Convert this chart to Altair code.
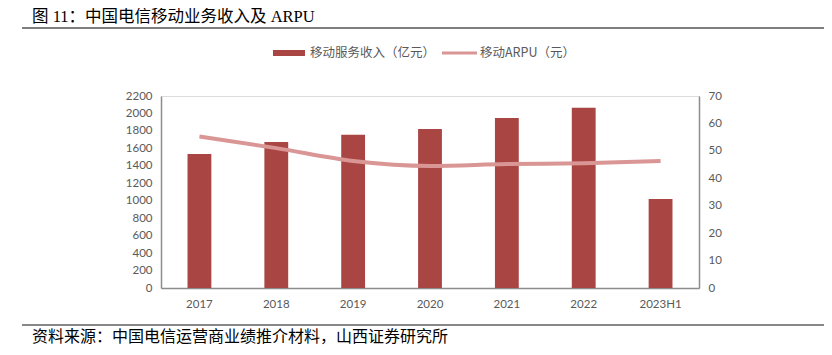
import altair as alt
import pandas as pd

years = ["2017", "2018", "2019", "2020", "2021", "2022", "2023H1"]
revenue = [1535, 1673, 1755, 1822, 1948, 2066, 1020]
arpu = [55.2, 51.0, 46.3, 44.5, 45.2, 45.5, 46.3]

title_text = "图 11：中国电信移动业务收入及 ARPU"
source_text = "资料来源：中国电信运营商业绩推介材料，山西证券研究所"
legend_bar = "移动服务收入（亿元）"
legend_line = "移动ARPU（元）"

BAR = "#A94543"
LINE = "#D99694"
LAB = "#595959"
AX = "#8C8C8C"
FONT = "Noto Sans CJK SC"
SERIF = "Liberation Serif, Noto Sans CJK SC"

df = pd.DataFrame({"year": years, "revenue": revenue, "arpu": arpu})

xenc = alt.X("year:N", sort=years, title=None,
             scale=alt.Scale(paddingInner=0.69, paddingOuter=0.345),
             axis=alt.Axis(labelAngle=0, labelColor=LAB, labelFont="Lato", labelFontSize=11.5,
                           ticks=False, domainColor=AX, domainWidth=1.5, labelPadding=10))

bars = alt.Chart(df).mark_bar(color=BAR).encode(
    x=xenc,
    y=alt.Y("revenue:Q", title=None,
            scale=alt.Scale(domain=[0, 2200], nice=False),
            axis=alt.Axis(orient="left", values=list(range(0, 2201, 200)), format="d",
                          grid=False, ticks=False,
                          labelColor=LAB, labelFont="Lato", labelFontSize=11.5,
                          domainColor=AX, domainWidth=1.5, labelPadding=9)),
)

line = alt.Chart(df).mark_line(color=LINE, strokeWidth=4, interpolate="monotone").encode(
    x=alt.X("year:N", sort=years, bandPosition=0.5),
    y=alt.Y("arpu:Q", title=None,
            scale=alt.Scale(domain=[0, 70], nice=False),
            axis=alt.Axis(orient="right", values=list(range(0, 71, 10)), format="d",
                          grid=False, ticks=False,
                          labelColor=LAB, labelFont="Lato", labelFontSize=11.5,
                          domainColor=AX, domainWidth=1.5, labelPadding=9)),
)

one = alt.Data(values=[{"k": 1}])

title = alt.Chart(one).mark_text(align="left", baseline="middle", font=SERIF, fontSize=16.5,
                                 color="#000000").encode(
    x=alt.value(-129), y=alt.value(-79), text=alt.value(title_text))
title_rule = alt.Chart(one).mark_rule(color="#555555", strokeWidth=1.5).encode(
    x=alt.value(-139), x2=alt.value(664), y=alt.value(-68))
foot_rule = alt.Chart(one).mark_rule(color="#888888", strokeWidth=2).encode(
    x=alt.value(-139), x2=alt.value(664), y=alt.value(229))
foot = alt.Chart(one).mark_text(align="left", baseline="middle", font=FONT, fontSize=16,
                                color="#000000").encode(
    x=alt.value(-129), y=alt.value(241), text=alt.value(source_text))

leg_rect = alt.Chart(one).mark_rect(color=BAR).encode(
    x=alt.value(112), x2=alt.value(144), y=alt.value(-46), y2=alt.value(-40))
leg_t1 = alt.Chart(one).mark_text(align="left", baseline="middle", font=FONT, fontSize=12.5,
                                  color=LAB).encode(
    x=alt.value(149), y=alt.value(-43), text=alt.value(legend_bar))
leg_line = alt.Chart(one).mark_rule(color=LINE, strokeWidth=3).encode(
    x=alt.value(281), x2=alt.value(316), y=alt.value(-43))
leg_t2 = alt.Chart(one).mark_text(align="left", baseline="middle", font=FONT, fontSize=12.5,
                                  color=LAB).encode(
    x=alt.value(319), y=alt.value(-43), text=alt.value(legend_line))

chart = alt.layer(bars, line, title, title_rule, foot_rule, foot,
                  leg_rect, leg_t1, leg_line, leg_t2).resolve_scale(
    y="independent"
).properties(
    width=538, height=192,
    autosize=alt.AutoSizeParams(type="none"),
    padding={"left": 153, "top": 88, "right": 125, "bottom": 59},
).configure_view(stroke=None).configure(background="white")

chart.save("out.html", embed_options={"renderer": "svg", "actions": False})
